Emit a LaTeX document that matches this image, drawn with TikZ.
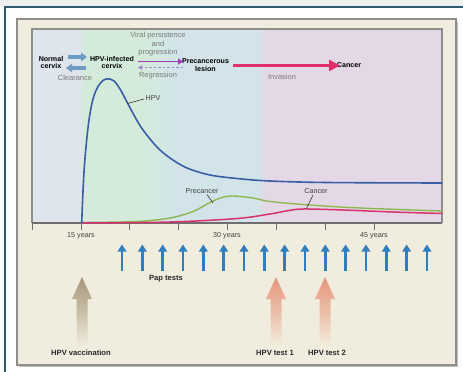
\documentclass[tikz,border=0pt]{standalone}
\usepackage{fontspec}
\setmainfont{Liberation Sans}
\usetikzlibrary{arrows.meta}
\definecolor{topgray}{HTML}{EEF0F0}
\definecolor{frameblue}{HTML}{2D5B70}
\definecolor{cream}{HTML}{F1EDDE}
\definecolor{panelborder}{HTML}{8E8E8A}
\definecolor{bandA}{HTML}{DEE5EC}
\definecolor{bandB}{HTML}{D4EBDB}
\definecolor{bandC}{HTML}{D2E4E9}
\definecolor{bandD}{HTML}{E4D8E6}
\definecolor{hpvblue}{HTML}{3A5EA6}
\definecolor{pregreen}{HTML}{8DB84F}
\definecolor{canpink}{HTML}{D8326E}
\definecolor{papblue}{HTML}{2F7EBD}
\definecolor{stageblue}{HTML}{6E9CC4}
\definecolor{stagepurple}{HTML}{A33CB5}
\definecolor{regpurple}{HTML}{9E88D6}
\definecolor{invpink}{HTML}{E0306E}
\definecolor{vactan}{HTML}{A6977A}
\definecolor{testsalmon}{HTML}{E6977B}
\definecolor{txtgray}{HTML}{7A7A7A}
\definecolor{axisgray}{HTML}{6E6E6E}
\tikzset{
  stagelbl/.style={font=\fontsize{7.1}{7.8}\selectfont\bfseries, align=center, inner sep=0pt, text=black},
  notelbl/.style={font=\fontsize{7.5}{8.5}\selectfont, align=center, inner sep=0pt, text=txtgray},
  curvelbl/.style={font=\fontsize{7.2}{8}\selectfont, inner sep=0pt, text=black!75},
  axislbl/.style={font=\fontsize{7.2}{8}\selectfont, inner sep=0pt, text=black!75},
  boldlbl/.style={font=\fontsize{7.6}{8.5}\selectfont\bfseries, inner sep=0pt, text=black!85},
  paparrow/.style={draw=papblue, line width=2.6pt, -{Triangle[width=8.5pt,length=7pt]}},
  leader/.style={draw=black!80, line width=0.6pt}
}
\begin{document}
\begin{tikzpicture}[x=1pt,y=-1pt]
\useasboundingbox (0,0) rectangle (463,372);
% outer background
\fill[white] (0,0) rectangle (463,372);
\fill[topgray] (0,0) rectangle (463,7);
\draw[frameblue, line width=1.2pt] (5,372) -- (5,7) -- (463,7);
% panel
\fill[black!25] (18.5,20.5) rectangle (457.5,366.5);
\draw[panelborder, line width=1.6pt, fill=cream] (17,19) rectangle (456,365);
% plot bands
\fill[bandA] (32,29) rectangle (82,223);
\fill[bandB] (82,29) rectangle (142,223);
\shade[left color=bandB, right color=bandC] (142,29) rectangle (177,223);
\fill[bandC] (177,29) rectangle (259,223);
\shade[left color=bandC, right color=bandD] (259,29) rectangle (265,223);
\fill[bandD] (265,29) rectangle (442,223);
\draw[panelborder, line width=1.5pt] (32,223) -- (32,29) -- (442,29) -- (442,223);
% axis
\draw[axisgray, line width=1.4pt] (32,223) -- (442,223);
\foreach \t in {32,81,129,178,227,276,325,374}
  \draw[axisgray, line width=1pt] (\t,223) -- (\t,230);
\node[axislbl] (y15) at (81,235.5) {15 years};
\node[axislbl] (y30) at (227,235.5) {30 years};
\node[axislbl] (y45) at (374,235.5) {45 years};
% curves
\draw[pregreen, line width=1.4pt] plot[smooth, tension=0.55] coordinates {
  (82,222.5) (137,221.5) (170,218) (193,211.5) (210,202.5) (222,197.5) (233,196) (253,198) (270,201.5) (310,205) (360,208) (442,211)};
\draw[canpink, line width=1.5pt] plot[smooth, tension=0.55] coordinates {
  (82,223) (170,222) (237,218.5) (270,214) (286,211) (303,209) (343,210) (393,212) (442,213.5)};
\draw[hpvblue, line width=1.6pt] plot[smooth, tension=0.55] coordinates {
  (81.7,223) (82.6,200) (84,172) (86,147) (89,120) (93,99) (98,86.5) (103,80.5) (108,78.8) (114,81) (120,89) (127,102) (135,117) (143,130) (157,147) (170,158) (187,168) (210,175) (237,178.5) (270,181) (327,182.5) (442,183)};
% curve labels
\node[curvelbl] (hpvl) at (153,98) {HPV};
\draw[leader] (127.5,103.5) -- ([xshift=-1.5pt,yshift=-1pt]hpvl.west);
\node[curvelbl] (prel) at (202,191) {Precancer};
\draw[leader] (207,194.5) -- (213,203);
\node[curvelbl] (canl) at (316,191) {Cancer};
\draw[leader] (313,195) -- (306.5,208.5);
% stage labels
\node[stagelbl] (normal) at (51,62.5) {Normal\\cervix};
\node[stagelbl] (infected) at (112,62.5) {HPV-infected\\cervix};
\node[stagelbl] (lesion) at (205.5,65) {Precancerous\\lesion};
\node[stagelbl] (cancer) at (349,65.5) {Cancer};
\node[notelbl] (viral) at (158,44.5) {Viral persistence\\and\\progression};
\node[notelbl] (clear) at (75,78) {Clearance};
\node[notelbl] (regr) at (158,75.5) {Regression};
\node[notelbl] (inv) at (282,76.5) {Invasion};
% stage arrows
\coordinate (n1) at (67.5,57); \coordinate (i1) at (87,57);
\coordinate (n2) at (66,68); \coordinate (i2) at (86,68);
\draw[stageblue, line width=3.6pt, -{Triangle[width=8.5pt,length=6pt]}] (n1) -- (i1);
\draw[stageblue, line width=3.6pt, -{Triangle[width=8.5pt,length=6pt]}] (i2) -- (n2);
\coordinate (p1) at (138,61.5); \coordinate (l1) at (183,61.5);
\coordinate (p2) at (138,67.5); \coordinate (l2) at (183,67.5);
\draw[stagepurple, line width=1.8pt, -{Triangle[width=6pt,length=5pt]}] (p1) -- (l1);
\draw[regpurple, line width=1pt, dashed, dash pattern=on 2.5pt off 2pt, -{Triangle[width=4.5pt,length=4pt]}] (l2) -- (p2);
\coordinate (c1) at (233,65.5); \coordinate (c2) at (340,65.5);
\draw[invpink, line width=3.2pt, -{Triangle[width=11pt,length=11pt]}] (c1) -- (c2);
% Pap test arrows
\foreach \i in {0,...,15}
  \draw[paparrow] ({122+20.33*\i},270.5) -- ({122+20.33*\i},244.5);
\node[boldlbl] (pap) at (166,278.5) {Pap tests};
% big fading arrows
\foreach \cx/\col in {82/vactan, 276/testsalmon, 325/testsalmon}
  \shade[top color=\col, bottom color=cream, middle color=\col!55!cream]
    (\cx,277) -- (\cx+10,299) -- (\cx+5.5,299) -- (\cx+5.5,346) -- (\cx-5.5,346) -- (\cx-5.5,299) -- (\cx-10,299) -- cycle;
\node[boldlbl] (vac) at (81,352.5) {HPV vaccination};
\node[boldlbl] (t1) at (275,352.5) {HPV test 1};
\node[boldlbl] (t2) at (327,352.5) {HPV test 2};
\end{tikzpicture}
\end{document}
